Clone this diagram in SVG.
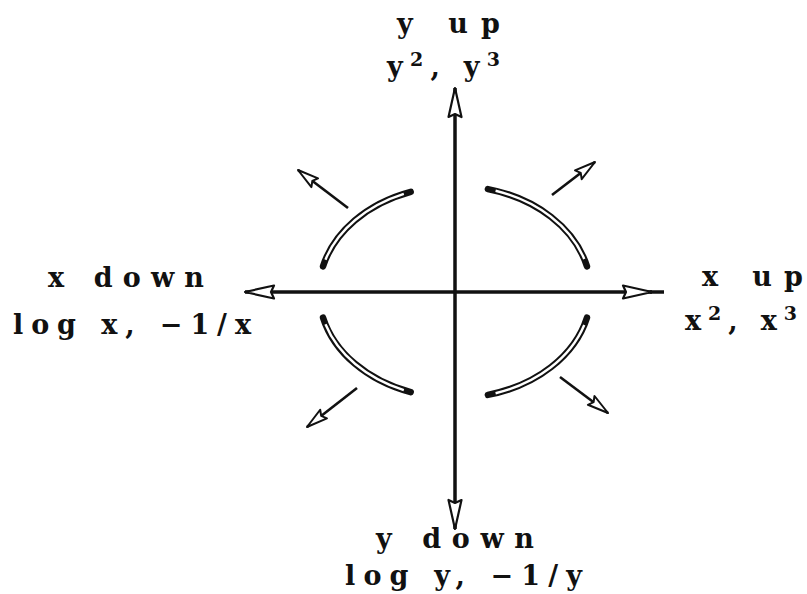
<svg xmlns="http://www.w3.org/2000/svg" width="807" height="594" viewBox="0 0 807 594">
<style>
.lbl{font-family:"DejaVu Serif","Liberation Serif",serif;font-weight:bold;font-size:27px;fill:#111}
.axis{stroke:#111;stroke-width:3.5;fill:none}
.small{stroke:#111;stroke-width:2.6;fill:none}
.arcB{stroke:#111;stroke-width:6.5;fill:none;stroke-linecap:round}
.arcW{stroke:#fff;stroke-width:2.4;fill:none;stroke-dasharray:0 6 88 100}
</style>
<defs>
<marker id="bigHead" markerUnits="userSpaceOnUse" viewBox="-32 -9 36 18" markerWidth="36" markerHeight="18" refX="0" refY="0" orient="auto" overflow="visible">
<path d="M0,0 L-29,-6.5 L-26,0 L-29,6.5 Z" fill="#fff" stroke="#111" stroke-width="2.2" stroke-linejoin="round"/>
</marker>
<marker id="smallHead" markerUnits="userSpaceOnUse" viewBox="-26 -8 30 16" markerWidth="30" markerHeight="16" refX="0" refY="0" orient="auto" overflow="visible">
<path d="M0,0 L-21,-5.5 L-18,0 L-21,5.5 Z" fill="#fff" stroke="#111" stroke-width="2" stroke-linejoin="round"/>
</marker>
<path id="arcTL" pathLength="100" d="M 323.04 266.36 A 136 106 0 0 1 410.7 191.8"/>
<path id="arcTR" pathLength="100" d="M 487.9 189.1 A 136 106 0 0 1 586.96 266.36"/>
<path id="arcBR" pathLength="100" d="M 586.96 317.64 A 136 106 0 0 1 487.9 394.9"/>
<path id="arcBL" pathLength="100" d="M 410.7 392.2 A 136 106 0 0 1 323.04 317.64"/>
</defs>
<rect width="807" height="594" fill="#fff"/>
<g id="connectors">
<line class="axis" x1="455" y1="292" x2="455" y2="88" marker-end="url(#bigHead)"/>
<line class="axis" x1="455" y1="292" x2="455" y2="529" marker-end="url(#bigHead)"/>
<line class="axis" x1="455" y1="292" x2="245" y2="292" marker-end="url(#bigHead)"/>
<line class="axis" x1="455" y1="292" x2="652" y2="292" marker-end="url(#bigHead)"/>
<line class="axis" x1="650" y1="292" x2="664" y2="292"/>
<line class="small" x1="348" y1="208" x2="298" y2="170" marker-end="url(#smallHead)"/>
<line class="small" x1="552" y1="195" x2="595" y2="162" marker-end="url(#smallHead)"/>
<line class="small" x1="357" y1="388" x2="307" y2="427" marker-end="url(#smallHead)"/>
<line class="small" x1="560" y1="377" x2="608" y2="413" marker-end="url(#smallHead)"/>
</g>
<g id="arcs">
<use href="#arcTL" class="arcB"/><use href="#arcTL" class="arcW"/>
<use href="#arcTR" class="arcB"/><use href="#arcTR" class="arcW"/>
<use href="#arcBR" class="arcB"/><use href="#arcBR" class="arcW"/>
<use href="#arcBL" class="arcB"/><use href="#arcBL" class="arcW"/>
</g>
<g id="node-yup">
<text class="lbl" x="397" y="33" textLength="103" lengthAdjust="spacing">y up</text>
<text class="lbl" x="387" y="76" textLength="113" lengthAdjust="spacing">y<tspan dy="-10" font-size="19">2</tspan><tspan dy="10">, y</tspan><tspan dy="-10" font-size="19">3</tspan></text>
</g>
<g id="node-xdown">
<text class="lbl" x="48" y="287" textLength="156" lengthAdjust="spacing">x down</text>
<text class="lbl" x="13" y="334" textLength="238" lengthAdjust="spacing">log x, −1/x</text>
</g>
<g id="node-xup">
<text class="lbl" x="702" y="286" textLength="101" lengthAdjust="spacing">x up</text>
<text class="lbl" x="685" y="330" textLength="112" lengthAdjust="spacing">x<tspan dy="-10" font-size="19">2</tspan><tspan dy="10">, x</tspan><tspan dy="-10" font-size="19">3</tspan></text>
</g>
<g id="node-ydown">
<text class="lbl" x="376" y="548" textLength="158" lengthAdjust="spacing">y down</text>
<text class="lbl" x="345" y="585" textLength="237" lengthAdjust="spacing">log y, −1/y</text>
</g>
</svg>
